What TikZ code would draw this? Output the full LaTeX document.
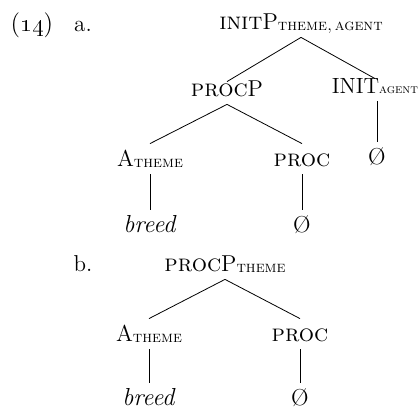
\documentclass[tikz,border=0pt]{standalone}
\usepackage{amsmath}
\usepackage{tikz}

\newcommand{\bigsc}[1]{{\fontsize{12}{14}\selectfont\textsc{#1}}}
\newcommand{\subsc}[1]{\raisebox{-0.5pt}{\fontsize{8}{10}\selectfont\textsc{#1}}}
\newcommand{\tinysc}[1]{{\fontsize{6.5}{9}\selectfont\textsc{#1}}}

\begin{document}
\begin{tikzpicture}[x=0.5pt, y=-0.5pt,
        every node/.style={font=\fontsize{11.5}{13}\selectfont},
        cat/.style={anchor=base, inner sep=1.5pt, text height=10pt, text depth=2pt},
        low/.style={text height=6pt}]
        \useasboundingbox (0,0) rectangle (418,410);
        % example numbers
        \node[anchor=base, font=\fontsize{12.5}{14}\selectfont] (exnum) at (32,32) {(\oldstylenums{14})};
        \node[anchor=base] (exa) at (83,32) {a.};
        \node[anchor=base] (exb) at (83,272) {b.};
        % tree a
        \node[cat] (initP) at (301,30) {\bigsc{init}P\subsc{theme,\,agent}};
        \node[cat, low, font=\fontsize{11}{13}\selectfont] (inita) at (375,94) {INIT\tinysc{agent}};
        \node[cat, low] (procPa) at (227,97) {\bigsc{proc}P};
        \node[cat] (themea) at (150,167) {A\subsc{theme}};
        \node[cat] (proca) at (302,167) {\bigsc{proc}};
        \node[cat] (nulli) at (377,165) {\O};
        \node[cat] (breeda) at (150,233) {\textit{\fontsize{12.3}{14}\selectfont breed}};
        \node[cat] (nulla) at (302,233) {\O};
        \draw (initP.south) -- (procPa.north);
        \draw (initP.south) -- (inita.north);
        \draw (nulli.north |- inita.south) -- (nulli.north);
        \draw (procPa.south) -- (themea.north);
        \draw (procPa.south) -- (proca.north);
        \draw (themea.south) -- (breeda.north);
        \draw (proca.south) -- (nulla.north);
        % tree b
        \node[cat] (procPb) at (225,272) {\bigsc{proc}P\subsc{theme}};
        \node[cat] (themeb) at (149,342) {A\subsc{theme}};
        \node[cat] (procb) at (300,342) {\bigsc{proc}};
        \node[cat] (breedb) at (149,406) {\textit{\fontsize{12.3}{14}\selectfont breed}};
        \node[cat] (nullb) at (300,406) {\O};
        \draw (procPb.south) -- (themeb.north);
        \draw (procPb.south) -- (procb.north);
        \draw (themeb.south) -- (breedb.north);
        \draw (procb.south) -- (nullb.north);
    \end{tikzpicture}
\end{document}
